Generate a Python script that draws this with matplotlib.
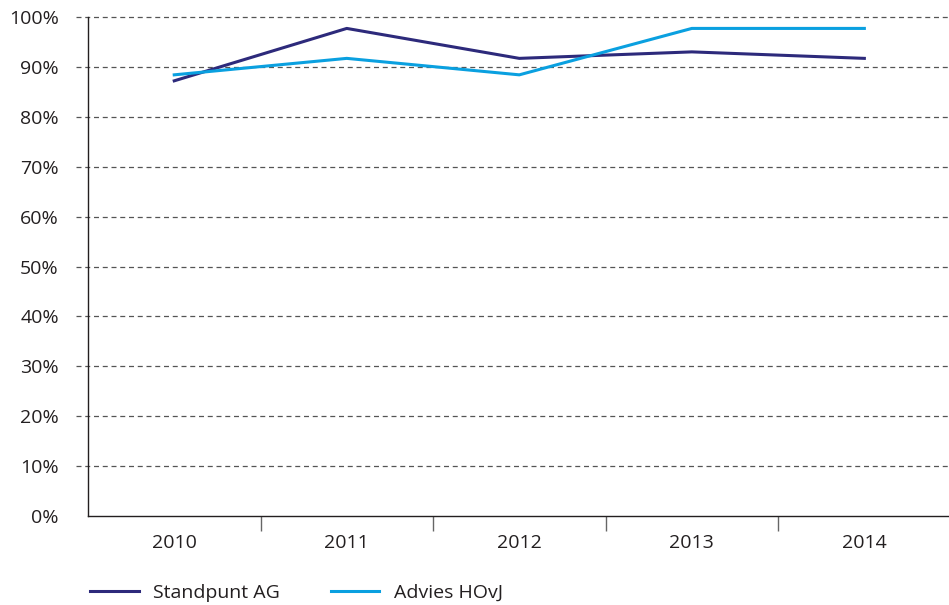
import matplotlib.pyplot as plt
import numpy as np

years = ["2010", "2011", "2012", "2013", "2014"]
standpunt_ag = [87.2, 97.7, 91.7, 93.0, 91.7]
advies_hovj = [88.4, 91.7, 88.4, 97.7, 97.7]

color_ag = "#2d2a7b"
color_hovj = "#0aa0e0"

plt.rcParams["font.family"] = ["Open Sans", "DejaVu Sans"]

fig = plt.figure(figsize=(9.49, 6.05), dpi=100)
ax = fig.add_axes([0.0927, 0.147, 0.909, 0.825])

x = np.arange(len(years))
ax.plot(x, standpunt_ag, c=color_ag, lw=2.2, label="Standpunt AG", zorder=3)
ax.plot(x, advies_hovj, c=color_hovj, lw=2.2, label="Advies HOvJ", zorder=3)

ax.set_xlim(-0.5, len(years) - 0.5)
ax.set_ylim(0, 100)

# dashed grid that runs a little past the y axis
for y in range(10, 101, 10):
    ax.axhline(y, xmin=-0.014, xmax=1, color="#555555", lw=0.9,
               linestyle=(0, (4, 3)), clip_on=False, zorder=1)

ax.set_yticks(range(0, 101, 10))
ax.set_yticklabels([f"{v}%" for v in range(0, 101, 10)], fontsize=14, color="#231f20")
ax.tick_params(axis="y", length=0, pad=21)

ax.set_xticks(x)
ax.set_xticklabels(years, fontsize=14, color="#231f20")
ax.set_xticks(np.arange(0.5, len(years), 1), minor=True)
ax.tick_params(axis="x", which="major", length=0, pad=13)
ax.tick_params(axis="x", which="minor", length=11, width=1, color="#666666", direction="out")

for side in ("top", "right"):
    ax.spines[side].set_visible(False)
for side in ("left", "bottom"):
    ax.spines[side].set_color("#231f20")
    ax.spines[side].set_linewidth(1)

fig.legend(loc="center left", bbox_to_anchor=(0.0948, 0.0198), ncol=2, frameon=False,
           fontsize=14, handlelength=2.5, handletextpad=0.75, columnspacing=2.6,
           borderpad=0, borderaxespad=0, labelcolor="#231f20")

fig.savefig("out.png", dpi=100)
